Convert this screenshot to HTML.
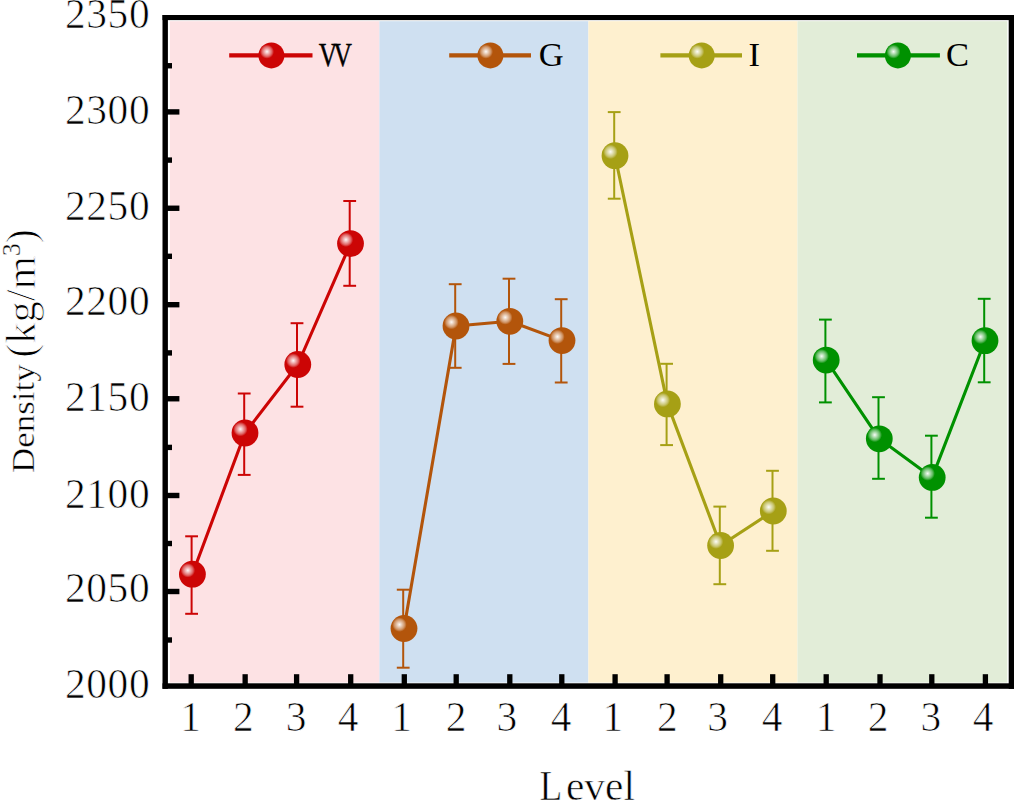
<!DOCTYPE html><html><head><meta charset="utf-8"><style>html,body{margin:0;padding:0;background:#fff;}svg{display:block}text{font-family:"Liberation Serif",serif;}</style></head><body>
<svg width="1014" height="800" viewBox="0 0 1014 800">
<defs>
<radialGradient id="b_red" cx="0.33" cy="0.355" r="0.27" fx="0.33" fy="0.355"><stop offset="0" stop-color="#fff" stop-opacity="0.97"/><stop offset="0.3" stop-color="#fff" stop-opacity="0.72"/><stop offset="0.7" stop-color="#fff" stop-opacity="0.38"/><stop offset="1" stop-color="#fff" stop-opacity="0"/></radialGradient>
<radialGradient id="b_brown" cx="0.33" cy="0.355" r="0.27" fx="0.33" fy="0.355"><stop offset="0" stop-color="#fff" stop-opacity="0.97"/><stop offset="0.3" stop-color="#fff" stop-opacity="0.72"/><stop offset="0.7" stop-color="#fff" stop-opacity="0.38"/><stop offset="1" stop-color="#fff" stop-opacity="0"/></radialGradient>
<radialGradient id="b_gold" cx="0.33" cy="0.355" r="0.27" fx="0.33" fy="0.355"><stop offset="0" stop-color="#fff" stop-opacity="0.97"/><stop offset="0.3" stop-color="#fff" stop-opacity="0.72"/><stop offset="0.7" stop-color="#fff" stop-opacity="0.38"/><stop offset="1" stop-color="#fff" stop-opacity="0"/></radialGradient>
<radialGradient id="b_green" cx="0.33" cy="0.355" r="0.27" fx="0.33" fy="0.355"><stop offset="0" stop-color="#fff" stop-opacity="0.97"/><stop offset="0.3" stop-color="#fff" stop-opacity="0.72"/><stop offset="0.7" stop-color="#fff" stop-opacity="0.38"/><stop offset="1" stop-color="#fff" stop-opacity="0"/></radialGradient>
</defs>
<rect x="0" y="0" width="1014" height="800" fill="#fff"/>
<rect x="170" y="21.2" width="209.40" height="661.40" fill="#FDE2E4"/>
<rect x="379.4" y="21.2" width="209.00" height="661.40" fill="#CFE0F1"/>
<rect x="588.4" y="21.2" width="209.10" height="661.40" fill="#FEF0CF"/>
<rect x="797.5" y="21.2" width="209.70" height="661.40" fill="#E2EDD8"/>
<line x1="191.60" y1="536.3" x2="191.60" y2="613.8" stroke="#CC0505" stroke-width="2"/>
<line x1="185.20" y1="536.3" x2="198.00" y2="536.3" stroke="#CC0505" stroke-width="2"/>
<line x1="185.20" y1="613.8" x2="198.00" y2="613.8" stroke="#CC0505" stroke-width="2"/>
<line x1="244.20" y1="393.5" x2="244.20" y2="474.9" stroke="#CC0505" stroke-width="2"/>
<line x1="237.80" y1="393.5" x2="250.60" y2="393.5" stroke="#CC0505" stroke-width="2"/>
<line x1="237.80" y1="474.9" x2="250.60" y2="474.9" stroke="#CC0505" stroke-width="2"/>
<line x1="297.00" y1="323.2" x2="297.00" y2="406.7" stroke="#CC0505" stroke-width="2"/>
<line x1="290.60" y1="323.2" x2="303.40" y2="323.2" stroke="#CC0505" stroke-width="2"/>
<line x1="290.60" y1="406.7" x2="303.40" y2="406.7" stroke="#CC0505" stroke-width="2"/>
<line x1="349.70" y1="201.0" x2="349.70" y2="285.8" stroke="#CC0505" stroke-width="2"/>
<line x1="343.30" y1="201.0" x2="356.10" y2="201.0" stroke="#CC0505" stroke-width="2"/>
<line x1="343.30" y1="285.8" x2="356.10" y2="285.8" stroke="#CC0505" stroke-width="2"/>
<path d="M192.40,574.20 L245.00,433.00 L297.80,364.50 L350.50,243.60" fill="none" stroke="#CC0505" stroke-width="3.1" stroke-linejoin="round"/>
<circle cx="192.4" cy="574.2" r="13.4" fill="#CC0505"/><circle cx="192.4" cy="574.2" r="13.4" fill="url(#b_red)"/>
<circle cx="245.0" cy="433.0" r="13.4" fill="#CC0505"/><circle cx="245.0" cy="433.0" r="13.4" fill="url(#b_red)"/>
<circle cx="297.8" cy="364.5" r="13.4" fill="#CC0505"/><circle cx="297.8" cy="364.5" r="13.4" fill="url(#b_red)"/>
<circle cx="350.5" cy="243.6" r="13.4" fill="#CC0505"/><circle cx="350.5" cy="243.6" r="13.4" fill="url(#b_red)"/>
<line x1="403.20" y1="589.7" x2="403.20" y2="667.7" stroke="#B3550B" stroke-width="2"/>
<line x1="396.80" y1="589.7" x2="409.60" y2="589.7" stroke="#B3550B" stroke-width="2"/>
<line x1="396.80" y1="667.7" x2="409.60" y2="667.7" stroke="#B3550B" stroke-width="2"/>
<line x1="455.20" y1="284.2" x2="455.20" y2="367.8" stroke="#B3550B" stroke-width="2"/>
<line x1="448.80" y1="284.2" x2="461.60" y2="284.2" stroke="#B3550B" stroke-width="2"/>
<line x1="448.80" y1="367.8" x2="461.60" y2="367.8" stroke="#B3550B" stroke-width="2"/>
<line x1="509.00" y1="278.7" x2="509.00" y2="363.9" stroke="#B3550B" stroke-width="2"/>
<line x1="502.60" y1="278.7" x2="515.40" y2="278.7" stroke="#B3550B" stroke-width="2"/>
<line x1="502.60" y1="363.9" x2="515.40" y2="363.9" stroke="#B3550B" stroke-width="2"/>
<line x1="561.20" y1="299.2" x2="561.20" y2="382.5" stroke="#B3550B" stroke-width="2"/>
<line x1="554.80" y1="299.2" x2="567.60" y2="299.2" stroke="#B3550B" stroke-width="2"/>
<line x1="554.80" y1="382.5" x2="567.60" y2="382.5" stroke="#B3550B" stroke-width="2"/>
<path d="M404.00,628.50 L456.00,326.00 L509.80,321.30 L562.00,340.60" fill="none" stroke="#B3550B" stroke-width="3.1" stroke-linejoin="round"/>
<circle cx="404.0" cy="628.5" r="13.4" fill="#B3550B"/><circle cx="404.0" cy="628.5" r="13.4" fill="url(#b_brown)"/>
<circle cx="456.0" cy="326.0" r="13.4" fill="#B3550B"/><circle cx="456.0" cy="326.0" r="13.4" fill="url(#b_brown)"/>
<circle cx="509.8" cy="321.3" r="13.4" fill="#B3550B"/><circle cx="509.8" cy="321.3" r="13.4" fill="url(#b_brown)"/>
<circle cx="562.0" cy="340.6" r="13.4" fill="#B3550B"/><circle cx="562.0" cy="340.6" r="13.4" fill="url(#b_brown)"/>
<line x1="614.20" y1="112.1" x2="614.20" y2="198.7" stroke="#A6A015" stroke-width="2"/>
<line x1="607.80" y1="112.1" x2="620.60" y2="112.1" stroke="#A6A015" stroke-width="2"/>
<line x1="607.80" y1="198.7" x2="620.60" y2="198.7" stroke="#A6A015" stroke-width="2"/>
<line x1="666.60" y1="363.8" x2="666.60" y2="445.1" stroke="#A6A015" stroke-width="2"/>
<line x1="660.20" y1="363.8" x2="673.00" y2="363.8" stroke="#A6A015" stroke-width="2"/>
<line x1="660.20" y1="445.1" x2="673.00" y2="445.1" stroke="#A6A015" stroke-width="2"/>
<line x1="719.80" y1="506.6" x2="719.80" y2="584.2" stroke="#A6A015" stroke-width="2"/>
<line x1="713.40" y1="506.6" x2="726.20" y2="506.6" stroke="#A6A015" stroke-width="2"/>
<line x1="713.40" y1="584.2" x2="726.20" y2="584.2" stroke="#A6A015" stroke-width="2"/>
<line x1="772.50" y1="470.8" x2="772.50" y2="550.8" stroke="#A6A015" stroke-width="2"/>
<line x1="766.10" y1="470.8" x2="778.90" y2="470.8" stroke="#A6A015" stroke-width="2"/>
<line x1="766.10" y1="550.8" x2="778.90" y2="550.8" stroke="#A6A015" stroke-width="2"/>
<path d="M615.00,155.70 L667.40,403.90 L720.60,545.50 L773.30,511.00" fill="none" stroke="#A6A015" stroke-width="3.1" stroke-linejoin="round"/>
<circle cx="615.0" cy="155.7" r="13.4" fill="#A6A015"/><circle cx="615.0" cy="155.7" r="13.4" fill="url(#b_gold)"/>
<circle cx="667.4" cy="403.9" r="13.4" fill="#A6A015"/><circle cx="667.4" cy="403.9" r="13.4" fill="url(#b_gold)"/>
<circle cx="720.6" cy="545.5" r="13.4" fill="#A6A015"/><circle cx="720.6" cy="545.5" r="13.4" fill="url(#b_gold)"/>
<circle cx="773.3" cy="511.0" r="13.4" fill="#A6A015"/><circle cx="773.3" cy="511.0" r="13.4" fill="url(#b_gold)"/>
<line x1="825.40" y1="319.6" x2="825.40" y2="402.4" stroke="#009100" stroke-width="2"/>
<line x1="819.00" y1="319.6" x2="831.80" y2="319.6" stroke="#009100" stroke-width="2"/>
<line x1="819.00" y1="402.4" x2="831.80" y2="402.4" stroke="#009100" stroke-width="2"/>
<line x1="878.50" y1="397.2" x2="878.50" y2="478.8" stroke="#009100" stroke-width="2"/>
<line x1="872.10" y1="397.2" x2="884.90" y2="397.2" stroke="#009100" stroke-width="2"/>
<line x1="872.10" y1="478.8" x2="884.90" y2="478.8" stroke="#009100" stroke-width="2"/>
<line x1="931.40" y1="435.7" x2="931.40" y2="517.7" stroke="#009100" stroke-width="2"/>
<line x1="925.00" y1="435.7" x2="937.80" y2="435.7" stroke="#009100" stroke-width="2"/>
<line x1="925.00" y1="517.7" x2="937.80" y2="517.7" stroke="#009100" stroke-width="2"/>
<line x1="984.20" y1="298.8" x2="984.20" y2="382.3" stroke="#009100" stroke-width="2"/>
<line x1="977.80" y1="298.8" x2="990.60" y2="298.8" stroke="#009100" stroke-width="2"/>
<line x1="977.80" y1="382.3" x2="990.60" y2="382.3" stroke="#009100" stroke-width="2"/>
<path d="M826.20,360.10 L879.30,438.80 L932.20,477.40 L985.00,340.70" fill="none" stroke="#009100" stroke-width="3.1" stroke-linejoin="round"/>
<circle cx="826.2" cy="360.1" r="13.4" fill="#009100"/><circle cx="826.2" cy="360.1" r="13.4" fill="url(#b_green)"/>
<circle cx="879.3" cy="438.8" r="13.4" fill="#009100"/><circle cx="879.3" cy="438.8" r="13.4" fill="url(#b_green)"/>
<circle cx="932.2" cy="477.4" r="13.4" fill="#009100"/><circle cx="932.2" cy="477.4" r="13.4" fill="url(#b_green)"/>
<circle cx="985.0" cy="340.7" r="13.4" fill="#009100"/><circle cx="985.0" cy="340.7" r="13.4" fill="url(#b_green)"/>
<line x1="229.2" y1="55.4" x2="312.5" y2="55.4" stroke="#CC0505" stroke-width="4.3"/>
<circle cx="271.4" cy="55.4" r="13" fill="#CC0505"/><circle cx="271.4" cy="55.4" r="13" fill="url(#b_red)"/>
<g transform="translate(318.79999999999995,66.4)" stroke="#000" stroke-width="0.45"><text x="0" y="0" font-size="34.5" fill="#000" transform="scale(0.74,1)">V</text><text x="0" y="0" font-size="34.5" fill="#000" transform="translate(14.6,0) scale(0.74,1)">V</text></g>
<line x1="449.2" y1="55.4" x2="531.0" y2="55.4" stroke="#B3550B" stroke-width="4.3"/>
<circle cx="490.4" cy="55.4" r="13" fill="#B3550B"/><circle cx="490.4" cy="55.4" r="13" fill="url(#b_brown)"/>
<text x="538.7" y="66.3" font-size="34.5" fill="#000">G</text>
<line x1="660.4" y1="55.4" x2="742.0" y2="55.4" stroke="#A6A015" stroke-width="4.3"/>
<circle cx="701.7" cy="55.4" r="13" fill="#A6A015"/><circle cx="701.7" cy="55.4" r="13" fill="url(#b_gold)"/>
<text x="748.6" y="66.3" font-size="34.5" fill="#000">I</text>
<line x1="857.0" y1="55.4" x2="939.9" y2="55.4" stroke="#009100" stroke-width="4.3"/>
<circle cx="897.9" cy="55.4" r="13" fill="#009100"/><circle cx="897.9" cy="55.4" r="13" fill="url(#b_green)"/>
<text x="946.0" y="66.3" font-size="34.5" fill="#000">C</text>
<rect x="162.5" y="15" width="851.5" height="5.1" fill="#000"/>
<rect x="162.5" y="683.3" width="851.5" height="5.5" fill="#000"/>
<rect x="162.5" y="15" width="5.4" height="673.8" fill="#000"/>
<rect x="1008.7" y="15" width="5.3" height="673.8" fill="#000"/>
<rect x="188.55" y="674.2" width="5.3" height="11" fill="#000"/>
<rect x="242.50" y="674.2" width="5.3" height="11" fill="#000"/>
<rect x="293.95" y="674.2" width="5.3" height="11" fill="#000"/>
<rect x="348.05" y="674.2" width="5.3" height="11" fill="#000"/>
<rect x="401.65" y="674.2" width="5.3" height="11" fill="#000"/>
<rect x="453.55" y="674.2" width="5.3" height="11" fill="#000"/>
<rect x="507.15" y="674.2" width="5.3" height="11" fill="#000"/>
<rect x="559.15" y="674.2" width="5.3" height="11" fill="#000"/>
<rect x="612.45" y="674.2" width="5.3" height="11" fill="#000"/>
<rect x="664.45" y="674.2" width="5.3" height="11" fill="#000"/>
<rect x="718.05" y="674.2" width="5.3" height="11" fill="#000"/>
<rect x="770.05" y="674.2" width="5.3" height="11" fill="#000"/>
<rect x="823.55" y="674.2" width="5.3" height="11" fill="#000"/>
<rect x="877.35" y="674.2" width="5.3" height="11" fill="#000"/>
<rect x="929.15" y="674.2" width="5.3" height="11" fill="#000"/>
<rect x="982.75" y="674.2" width="5.3" height="11" fill="#000"/>
<rect x="166" y="109.20" width="13.4" height="5.4" fill="#000"/>
<rect x="166" y="205.55" width="13.4" height="5.4" fill="#000"/>
<rect x="166" y="302.00" width="13.4" height="5.4" fill="#000"/>
<rect x="166" y="396.05" width="13.4" height="5.4" fill="#000"/>
<rect x="166" y="492.80" width="13.4" height="5.4" fill="#000"/>
<rect x="166" y="588.80" width="13.4" height="5.4" fill="#000"/>
<rect x="166" y="63.05" width="6.0" height="5.4" fill="#000"/>
<rect x="166" y="157.40" width="6.0" height="5.4" fill="#000"/>
<rect x="166" y="253.60" width="6.0" height="5.4" fill="#000"/>
<rect x="166" y="350.20" width="6.0" height="5.4" fill="#000"/>
<rect x="166" y="444.70" width="6.0" height="5.4" fill="#000"/>
<rect x="166" y="540.80" width="6.0" height="5.4" fill="#000"/>
<rect x="166" y="637.30" width="6.0" height="5.4" fill="#000"/>
<text x="64.9" y="698.40" font-size="41.4" letter-spacing="0.65" fill="#000" stroke="#fff" stroke-width="0.7">2000</text>
<text x="64.9" y="602.20" font-size="41.4" letter-spacing="0.65" fill="#000" stroke="#fff" stroke-width="0.7">2050</text>
<text x="64.9" y="507.70" font-size="41.4" letter-spacing="0.65" fill="#000" stroke="#fff" stroke-width="0.7">2100</text>
<text x="64.9" y="411.30" font-size="41.4" letter-spacing="0.65" fill="#000" stroke="#fff" stroke-width="0.7">2150</text>
<text x="64.9" y="314.70" font-size="41.4" letter-spacing="0.65" fill="#000" stroke="#fff" stroke-width="0.7">2200</text>
<text x="64.9" y="220.40" font-size="41.4" letter-spacing="0.65" fill="#000" stroke="#fff" stroke-width="0.7">2250</text>
<text x="64.9" y="124.40" font-size="41.4" letter-spacing="0.65" fill="#000" stroke="#fff" stroke-width="0.7">2300</text>
<text x="64.9" y="27.70" font-size="41.4" letter-spacing="0.65" fill="#000" stroke="#fff" stroke-width="0.7">2350</text>
<text x="190.70" y="731.4" font-size="41.4" text-anchor="middle" fill="#000" stroke="#fff" stroke-width="0.7">1</text>
<text x="243.25" y="731.4" font-size="41.4" text-anchor="middle" fill="#000" stroke="#fff" stroke-width="0.7">2</text>
<text x="296.00" y="731.4" font-size="41.4" text-anchor="middle" fill="#000" stroke="#fff" stroke-width="0.7">3</text>
<text x="348.10" y="731.4" font-size="41.4" text-anchor="middle" fill="#000" stroke="#fff" stroke-width="0.7">4</text>
<text x="401.60" y="731.4" font-size="41.4" text-anchor="middle" fill="#000" stroke="#fff" stroke-width="0.7">1</text>
<text x="456.15" y="731.4" font-size="41.4" text-anchor="middle" fill="#000" stroke="#fff" stroke-width="0.7">2</text>
<text x="506.90" y="731.4" font-size="41.4" text-anchor="middle" fill="#000" stroke="#fff" stroke-width="0.7">3</text>
<text x="561.20" y="731.4" font-size="41.4" text-anchor="middle" fill="#000" stroke="#fff" stroke-width="0.7">4</text>
<text x="612.80" y="731.4" font-size="41.4" text-anchor="middle" fill="#000" stroke="#fff" stroke-width="0.7">1</text>
<text x="667.25" y="731.4" font-size="41.4" text-anchor="middle" fill="#000" stroke="#fff" stroke-width="0.7">2</text>
<text x="717.50" y="731.4" font-size="41.4" text-anchor="middle" fill="#000" stroke="#fff" stroke-width="0.7">3</text>
<text x="772.10" y="731.4" font-size="41.4" text-anchor="middle" fill="#000" stroke="#fff" stroke-width="0.7">4</text>
<text x="826.00" y="731.4" font-size="41.4" text-anchor="middle" fill="#000" stroke="#fff" stroke-width="0.7">1</text>
<text x="878.15" y="731.4" font-size="41.4" text-anchor="middle" fill="#000" stroke="#fff" stroke-width="0.7">2</text>
<text x="930.90" y="731.4" font-size="41.4" text-anchor="middle" fill="#000" stroke="#fff" stroke-width="0.7">3</text>
<text x="983.20" y="731.4" font-size="41.4" text-anchor="middle" fill="#000" stroke="#fff" stroke-width="0.7">4</text>
<text x="0" y="0" font-size="41.4" fill="#000" stroke="#fff" stroke-width="0.6" transform="translate(539.4,799.5) scale(0.9,1)">L</text>
<text x="566" y="799.5" font-size="41.4" fill="#000" stroke="#fff" stroke-width="0.6">evel</text>
<g transform="translate(33.75,473.1) rotate(-90)"><text x="0" y="0" font-size="35" transform="scale(1,0.9)" fill="#000" stroke="#fff" stroke-width="0.5">Density</text></g>
<g transform="translate(35.2,357.8) rotate(-90)"><text x="0" y="0" font-size="42.5" fill="#000" stroke="#fff" stroke-width="0.9">(kg/m<tspan font-size="26" dy="-15" stroke-width="0.35">3</tspan><tspan dy="15">)</tspan></text></g>
</svg></body></html>
